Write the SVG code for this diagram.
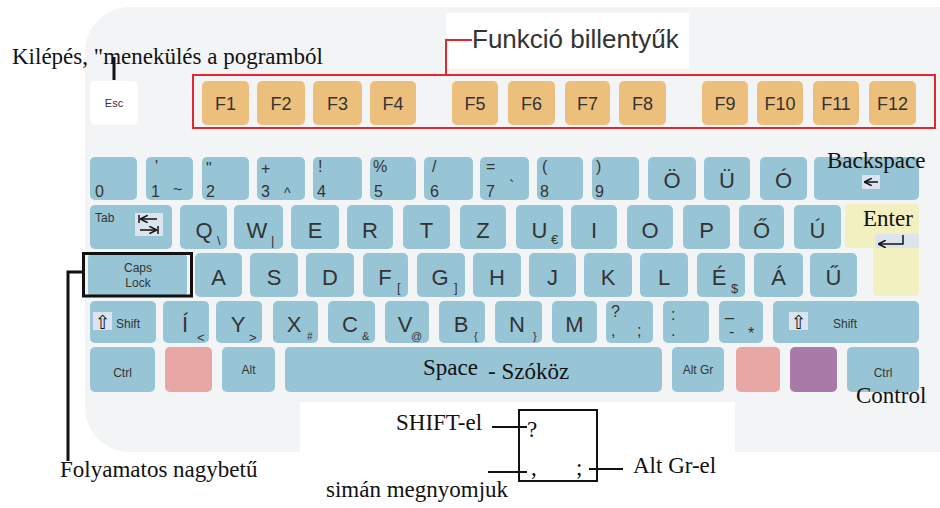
<svg xmlns="http://www.w3.org/2000/svg" width="940" height="508" viewBox="0 0 940 508">
<style>
.k{fill:#98c5d6}
.fk{fill:#ecc07c}
.ic{fill:#dce4ef}
.s{font-family:"Liberation Sans",Arial,sans-serif;fill:#333}
.sm{font-size:12px}
.num{font-size:16px}
.big{font-size:22px;text-anchor:middle}
.sub{font-size:13px}
.fn{font-size:18px;text-anchor:middle}
.c{text-anchor:middle}
.sym{font-family:"DejaVu Sans",sans-serif;fill:#111}
.ser{font-family:"Liberation Serif","Times New Roman",serif;fill:#111;font-size:23px}
.ln{stroke:#111;fill:none}
.ico{stroke:#111;fill:none;stroke-width:1.5}
</style>
<defs>
<marker id="ah" viewBox="0 0 10 10" refX="9" refY="5" markerWidth="5" markerHeight="5" orient="auto-start-reverse"><path d="M0 0L10 5L0 10" fill="none" stroke="#111" stroke-width="2"/></marker>
</defs>
<rect x="85" y="7" width="900" height="445" rx="45" fill="#f3f4f6"/>
<rect x="300" y="402" width="435" height="106" fill="#fff"/>
<rect x="446" y="13" width="243" height="56" fill="#fff"/>

<g id="esc"><rect x="90" y="81" width="48" height="44" rx="5" fill="#fff"/><text class="s c" x="114" y="107" font-size="11">Esc</text></g>
<g id="fkeys">
<g id="f1"><rect class="fk" x="202" y="81" width="47" height="44" rx="5"/><text class="s fn" x="225.5" y="110">F1</text></g>
<g id="f2"><rect class="fk" x="257" y="81" width="48" height="44" rx="5"/><text class="s fn" x="281" y="110">F2</text></g>
<g id="f3"><rect class="fk" x="313" y="81" width="49" height="44" rx="5"/><text class="s fn" x="337.5" y="110">F3</text></g>
<g id="f4"><rect class="fk" x="370" y="81" width="46" height="44" rx="5"/><text class="s fn" x="393" y="110">F4</text></g>
<g id="f5"><rect class="fk" x="452" y="81" width="46" height="44" rx="5"/><text class="s fn" x="475" y="110">F5</text></g>
<g id="f6"><rect class="fk" x="508" y="81" width="47" height="44" rx="5"/><text class="s fn" x="531.5" y="110">F6</text></g>
<g id="f7"><rect class="fk" x="565" y="81" width="45" height="44" rx="5"/><text class="s fn" x="587.5" y="110">F7</text></g>
<g id="f8"><rect class="fk" x="619" y="81" width="47" height="44" rx="5"/><text class="s fn" x="642.5" y="110">F8</text></g>
<g id="f9"><rect class="fk" x="702" y="81" width="46" height="44" rx="5"/><text class="s fn" x="725" y="110">F9</text></g>
<g id="f10"><rect class="fk" x="757" y="81" width="46" height="44" rx="5"/><text class="s fn" x="780" y="110">F10</text></g>
<g id="f11"><rect class="fk" x="813" y="81" width="46" height="44" rx="5"/><text class="s fn" x="836" y="110">F11</text></g>
<g id="f12"><rect class="fk" x="869" y="81" width="47" height="44" rx="5"/><text class="s fn" x="892.5" y="110">F12</text></g>
</g>
<rect id="fbox" x="193" y="75" width="742" height="53" fill="none" stroke="#e32630" stroke-width="2"/>

<g id="row1">
<g id="k0"><rect class="k" x="90" y="157" width="47" height="43" rx="5"/><text class="s num" x="95" y="197">0</text></g>
<g id="k1"><rect class="k" x="146" y="157" width="47" height="43" rx="5"/><text class="s num" x="155" y="172">'</text><text class="s num" x="151" y="197">1</text><text class="s num" x="173" y="195">~</text></g>
<g id="k2"><rect class="k" x="202" y="157" width="47" height="43" rx="5"/><text class="s num" x="206" y="174">"</text><text class="s num" x="206" y="197">2</text></g>
<g id="k3"><rect class="k" x="257" y="157" width="48" height="43" rx="5"/><text class="s num" x="261" y="174">+</text><text class="s num" x="261" y="197">3</text><text class="s" x="284" y="198" font-size="14">^</text></g>
<g id="k4"><rect class="k" x="313" y="157" width="49" height="43" rx="5"/><text class="s num" x="318" y="172">!</text><text class="s num" x="317" y="197">4</text></g>
<g id="k5"><rect class="k" x="370" y="157" width="46" height="43" rx="5"/><text class="s num" x="373" y="172">%</text><text class="s num" x="374" y="197">5</text></g>
<g id="k6"><rect class="k" x="424" y="157" width="49" height="43" rx="5"/><text class="s num" x="432" y="172">/</text><text class="s num" x="430" y="197">6</text></g>
<g id="k7"><rect class="k" x="480" y="157" width="49" height="43" rx="5"/><text class="s num" x="486" y="172">=</text><text class="s num" x="486" y="197">7</text><text class="s num" x="509" y="192">`</text></g>
<g id="k8"><rect class="k" x="537" y="157" width="46" height="43" rx="5"/><text class="s num" x="542" y="172">(</text><text class="s num" x="540" y="197">8</text></g>
<g id="k9"><rect class="k" x="592" y="157" width="47" height="43" rx="5"/><text class="s num" x="596" y="172">)</text><text class="s num" x="595" y="197">9</text></g>
<g id="ko"><rect class="k" x="648" y="157" width="48" height="43" rx="5"/><text class="s big" x="672" y="188">Ö</text></g>
<g id="ku"><rect class="k" x="704" y="157" width="46" height="43" rx="5"/><text class="s big" x="727" y="188">Ü</text></g>
<g id="koa"><rect class="k" x="760" y="157" width="47" height="43" rx="5"/><text class="s big" x="783.5" y="188">Ó</text></g>
<g id="kback"><rect class="k" x="814" y="157" width="105" height="43" rx="5"/><rect class="ic" x="862" y="175" width="18" height="14"/><path class="ico" d="M865 182H878" marker-start="url(#ah)"/><text class="ser" x="827" y="168">Backspace</text></g>
</g>

<g id="row2">
<g id="ktab"><rect class="k" x="90" y="205" width="82" height="44" rx="5"/><text class="s sm" x="95" y="222">Tab</text><rect class="ic" x="135" y="213" width="28" height="23"/><path class="ico" d="M139 215V223"/><path class="ico" d="M141 219H157" marker-start="url(#ah)"/><path class="ico" d="M140 230H156" marker-end="url(#ah)"/><path class="ico" d="M158 226V234"/></g>
<g id="kq"><rect class="k" x="180" y="205" width="47" height="44" rx="5"/><text class="s big" x="204" y="238">Q</text><text class="s sub" x="217" y="245">\</text></g>
<g id="kw"><rect class="k" x="234" y="205" width="49" height="44" rx="5"/><text class="s big" x="257" y="238">W</text><text class="s sub" x="271" y="245">|</text></g>
<g id="ke"><rect class="k" x="291" y="205" width="48" height="44" rx="5"/><text class="s big" x="315" y="238">E</text></g>
<g id="kr"><rect class="k" x="347" y="205" width="46" height="44" rx="5"/><text class="s big" x="370" y="238">R</text></g>
<g id="kt"><rect class="k" x="403" y="205" width="47" height="44" rx="5"/><text class="s big" x="426.5" y="238">T</text></g>
<g id="kz"><rect class="k" x="460" y="205" width="46" height="44" rx="5"/><text class="s big" x="483" y="238">Z</text></g>
<g id="kuu"><rect class="k" x="516" y="205" width="47" height="44" rx="5"/><text class="s big" x="539.5" y="238">U</text><text class="s sub" x="551" y="244" font-size="11">€</text></g>
<g id="ki"><rect class="k" x="571" y="205" width="46" height="44" rx="5"/><text class="s big" x="594" y="238">I</text></g>
<g id="kob"><rect class="k" x="627" y="205" width="46" height="44" rx="5"/><text class="s big" x="650" y="238">O</text></g>
<g id="kp"><rect class="k" x="683" y="205" width="47" height="44" rx="5"/><text class="s big" x="706.5" y="238">P</text></g>
<g id="koo"><rect class="k" x="739" y="205" width="45" height="44" rx="5"/><text class="s big" x="761.5" y="238">Ő</text></g>
<g id="kua"><rect class="k" x="794" y="205" width="47" height="44" rx="5"/><text class="s big" x="817.5" y="238">Ú</text></g>
<g id="kenter"><path d="M850 204H914Q919 204 919 209V291Q919 296 914 296H878Q873 296 873 291V248H850Q845 248 845 243V209Q845 204 850 204Z" fill="#f2efc0"/><rect class="ic" x="875" y="234" width="44" height="14"/><path class="ico" d="M903 235V244H879" marker-end="url(#ah)"/><text class="ser" x="863" y="226">Enter</text></g>
</g>

<g id="row3">
<g id="kcaps"><rect class="k" x="88" y="253" width="99" height="44" rx="5"/><text class="s sm c" x="138" y="272">Caps</text><text class="s sm c" x="138" y="287">Lock</text></g>
<g id="ka"><rect class="k" x="195" y="253" width="47" height="44" rx="5"/><text class="s big" x="218.5" y="285">A</text></g>
<g id="ks"><rect class="k" x="250" y="253" width="48" height="44" rx="5"/><text class="s big" x="274" y="285">S</text></g>
<g id="kd"><rect class="k" x="306" y="253" width="48" height="44" rx="5"/><text class="s big" x="330" y="285">D</text></g>
<g id="kf"><rect class="k" x="363" y="253" width="45" height="44" rx="5"/><text class="s big" x="385" y="285">F</text><text class="s sub" x="397" y="292">[</text></g>
<g id="kg"><rect class="k" x="417" y="253" width="48" height="44" rx="5"/><text class="s big" x="440" y="285">G</text><text class="s sub" x="454" y="292">]</text></g>
<g id="kh"><rect class="k" x="473" y="253" width="48" height="44" rx="5"/><text class="s big" x="497" y="285">H</text></g>
<g id="kj"><rect class="k" x="529" y="253" width="47" height="44" rx="5"/><text class="s big" x="552.5" y="285">J</text></g>
<g id="kk"><rect class="k" x="584" y="253" width="48" height="44" rx="5"/><text class="s big" x="608" y="285">K</text></g>
<g id="kl"><rect class="k" x="640" y="253" width="48" height="44" rx="5"/><text class="s big" x="664" y="285">L</text></g>
<g id="kee"><rect class="k" x="697" y="253" width="48" height="44" rx="5"/><text class="s big" x="719" y="285">É</text><text class="s sub" x="731" y="293">$</text></g>
<g id="kaa"><rect class="k" x="754" y="253" width="49" height="44" rx="5"/><text class="s big" x="778.5" y="285">Á</text></g>
<g id="kuuu"><rect class="k" x="810" y="253" width="47" height="44" rx="5"/><text class="s big" x="833.5" y="285">Ű</text></g>
</g>

<g id="row4">
<g id="klshift"><rect class="k" x="90" y="301" width="66" height="42" rx="5"/><rect class="ic" x="93" y="312" width="19" height="18"/><text class="sym" x="102.5" y="329" font-size="19" text-anchor="middle">⇧</text><text class="s sm" x="116" y="328">Shift</text></g>
<g id="kii"><rect class="k" x="163" y="301" width="46" height="42" rx="5"/><text class="s big" x="185" y="332">Í</text><text class="s sub" x="197" y="342">&lt;</text></g>
<g id="ky"><rect class="k" x="216" y="301" width="46" height="42" rx="5"/><text class="s big" x="238" y="332">Y</text><text class="s sub" x="249" y="342">&gt;</text></g>
<g id="kx"><rect class="k" x="273" y="301" width="45" height="42" rx="5"/><text class="s big" x="294" y="332">X</text><text class="s" x="307" y="340" font-size="10">#</text></g>
<g id="kc"><rect class="k" x="328" y="301" width="47" height="42" rx="5"/><text class="s big" x="350" y="332">C</text><text class="s" x="362" y="340" font-size="11">&amp;</text></g>
<g id="kv"><rect class="k" x="385" y="301" width="44" height="42" rx="5"/><text class="s big" x="405" y="332">V</text><text class="s" x="411" y="340" font-size="11">@</text></g>
<g id="kb"><rect class="k" x="439" y="301" width="46" height="42" rx="5"/><text class="s big" x="461" y="332">B</text><text class="s" x="474" y="340" font-size="11">{</text></g>
<g id="kn"><rect class="k" x="495" y="301" width="47" height="42" rx="5"/><text class="s big" x="517" y="332">N</text><text class="s" x="533" y="340" font-size="11">}</text></g>
<g id="km"><rect class="k" x="552" y="301" width="45" height="42" rx="5"/><text class="s big" x="574.5" y="332">M</text></g>
<g id="kcomma"><rect class="k" x="606" y="301" width="47" height="42" rx="5"/><text class="s num" x="611" y="317">?</text><text class="s num" x="611" y="336">,</text><text class="s num" x="637" y="336">;</text></g>
<g id="kdot"><rect class="k" x="663" y="301" width="46" height="42" rx="5"/><text class="s num" x="671" y="320">:</text><text class="s num" x="671" y="336">.</text></g>
<g id="kminus"><rect class="k" x="719" y="301" width="44" height="42" rx="5"/><text class="s num" x="725" y="316">_</text><text class="s num" x="729" y="337">-</text><text class="s num" x="748" y="339">*</text></g>
<g id="krshift"><rect class="k" x="773" y="301" width="146" height="42" rx="5"/><rect class="ic" x="789" y="312" width="19" height="18"/><text class="sym" x="798.5" y="329" font-size="19" text-anchor="middle">⇧</text><text class="s sm" x="833" y="328">Shift</text></g>
</g>

<g id="row5">
<g id="klctrl"><rect class="k" x="90" y="347" width="65" height="45" rx="5"/><text class="s sm c" x="122.5" y="377">Ctrl</text></g>
<g id="kwin"><rect x="165" y="347" width="47" height="45" rx="5" fill="#e8a6a4"/></g>
<g id="kalt"><rect class="k" x="222" y="347" width="53" height="45" rx="5"/><text class="s sm c" x="248.5" y="374">Alt</text></g>
<g id="kspace"><rect class="k" x="285" y="347" width="377" height="45" rx="5"/><text class="ser" x="423" y="375" font-size="24">Space</text><text class="ser" x="488" y="379" font-size="20">- Szóköz</text></g>
<g id="kaltgr"><rect class="k" x="672" y="347" width="52" height="45" rx="5"/><text class="s sm c" x="698" y="374">Alt Gr</text></g>
<g id="kwin2"><rect x="736" y="347" width="44" height="45" rx="5" fill="#e8a6a4"/></g>
<g id="kmenu"><rect x="790" y="347" width="47" height="45" rx="5" fill="#a87aa8"/></g>
<g id="krctrl"><rect class="k" x="847" y="347" width="72" height="45" rx="5"/><text class="s sm c" x="883" y="377">Ctrl</text><text class="ser" x="856" y="403">Control</text></g>
</g>

<g id="labels">
<text id="lbl-esc" class="ser" x="12" y="64" font-size="23.4">Kilépés, "menekülés a pogramból</text>
<text id="lbl-fn" class="s" x="472" y="48" font-size="26">Funkció billentyűk</text>
<text id="lbl-caps" class="ser" x="60" y="477" font-size="20">Folyamatos nagybetű</text>
<text id="lbl-shift" class="ser" x="396" y="430">SHIFT-el</text>
<text id="lbl-plain" class="ser" x="326" y="497">simán megnyomjuk</text>
<text id="lbl-altgr" class="ser" x="633" y="473">Alt Gr-el</text>
</g>

<g id="legend">
<rect x="519" y="410" width="78" height="71" fill="none" stroke="#111" stroke-width="2"/>
<text class="ser" x="527" y="437">?</text>
<text class="ser" x="531" y="475">,</text>
<text class="ser" x="576" y="475">;</text>
</g>
<rect id="capsframe" x="83.5" y="253.5" width="108" height="42.5" fill="none" stroke="#111" stroke-width="3"/>

<g id="connectors">
<line class="ln" x1="114" y1="57" x2="114" y2="80" stroke-width="3"/>
<polyline points="446,74 446,40 472,40" fill="none" stroke="#e32630" stroke-width="2"/>
<polyline class="ln" points="82,272 68,272 68,461" stroke-width="3"/>
<line class="ln" x1="492" y1="427" x2="527" y2="427" stroke-width="2"/>
<line class="ln" x1="488" y1="472" x2="527" y2="472" stroke-width="2"/>
<line class="ln" x1="589" y1="469" x2="623" y2="469" stroke-width="2"/>
</g>
</svg>
